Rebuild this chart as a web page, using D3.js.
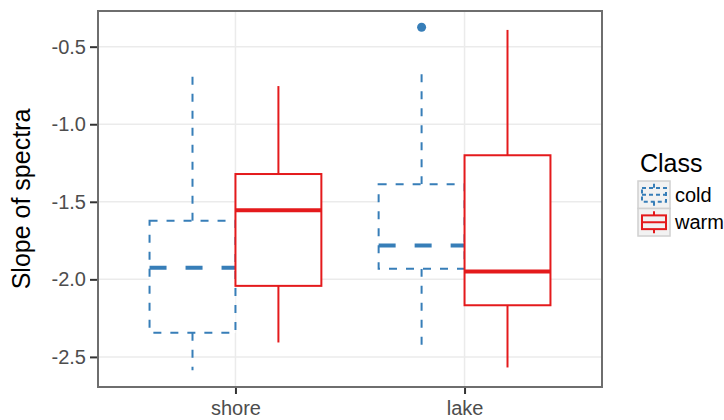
<!DOCTYPE html>
<html>
<head>
<meta charset="utf-8">
<script src="https://cdn.jsdelivr.net/npm/d3@7"></script>
<style>
  html, body { margin: 0; padding: 0; background: #fff; }
  svg { display: block; font-family: "Liberation Sans", Arial, Helvetica, sans-serif; }
</style>
</head>
<body>
<svg id="chart" width="724" height="420"></svg>
<script>
// Sites on the x axis and the two temperature classes
const sites = ["shore", "lake"];
const classes = ["cold", "warm"];

// Five-number summaries per class, in site order: [min, q1, median, q3, max]
const coldStats = [
  [-2.586, -2.345, -1.926, -1.623, -0.676],
  [-2.461, -1.932, -1.781, -1.387, -0.633]
];
const warmStats = [
  [-2.407, -2.042, -1.554, -1.321, -0.754],
  [-2.568, -2.167, -1.950, -1.200, -0.392]
];
// Outlying points per class, in site order
const coldOutliers = [[], [-0.375]];
const warmOutliers = [[], []];

// Axis ticks
const yTicks = [-2.5, -2.0, -1.5, -1.0, -0.5];
const yTickLabels = ["-2.5", "-2.0", "-1.5", "-1.0", "-0.5"];

const colors = { cold: "#377EB8", warm: "#E41A1C" };
const dashes = { cold: { line: "8,9", median: "17,19" }, warm: { line: null, median: null } };

const statsByClass = { cold: coldStats, warm: warmStats };
const outliersByClass = { cold: coldOutliers, warm: warmOutliers };

const panel = { left: 98, top: 11, right: 602, bottom: 387 };

const svg = d3.select("#chart");

const x = d3.scalePoint().domain(sites).range([panel.left, panel.right]).padding(0.6);
const dodge = d3.scaleBand().domain(classes).range([-x.step() * 0.375, x.step() * 0.375]).padding(0);
const y = d3.scaleLinear().domain([-2.694, -0.27]).range([panel.bottom, panel.top]);

// Grid lines
const grid = svg.append("g");
grid.selectAll("line.gy").data(yTicks).join("line")
  .attr("x1", panel.left).attr("x2", panel.right)
  .attr("y1", d => y(d)).attr("y2", d => y(d))
  .attr("stroke", "#ebebeb").attr("stroke-width", 1.5);
grid.selectAll("line.gx").data(sites).join("line")
  .attr("x1", d => x(d)).attr("x2", d => x(d))
  .attr("y1", panel.top).attr("y2", panel.bottom)
  .attr("stroke", "#ebebeb").attr("stroke-width", 1.5);

// Box plots
const boxes = [];
classes.forEach(c => {
  sites.forEach((s, i) => {
    const [mn, q1, md, q3, mx] = statsByClass[c][i];
    boxes.push({ c, s, mn, q1, md, q3, mx, out: outliersByClass[c][i] });
  });
});

const bw = dodge.bandwidth();
const gBoxes = svg.append("g");
boxes.forEach(b => {
  const x0 = x(b.s) + dodge(b.c);
  const cx = x0 + bw / 2;
  const g = gBoxes.append("g")
    .attr("stroke", colors[b.c]).attr("fill", "none");
  const dl = dashes[b.c].line;
  // upper whisker
  g.append("line").attr("x1", cx).attr("x2", cx).attr("y1", y(b.q3)).attr("y2", y(b.mx))
    .attr("stroke-width", 2).attr("stroke-dasharray", dl);
  // lower whisker
  g.append("line").attr("x1", cx).attr("x2", cx).attr("y1", y(b.q1)).attr("y2", y(b.mn))
    .attr("stroke-width", 2).attr("stroke-dasharray", dl);
  // box
  g.append("rect").attr("x", x0).attr("y", y(b.q3))
    .attr("width", bw).attr("height", y(b.q1) - y(b.q3))
    .attr("fill", "#fff").attr("stroke-width", 2).attr("stroke-dasharray", dl);
  // median
  g.append("line").attr("x1", x0).attr("x2", x0 + bw).attr("y1", y(b.md)).attr("y2", y(b.md))
    .attr("stroke-width", 4).attr("stroke-dasharray", dashes[b.c].median);
  // outliers
  g.selectAll("circle").data(b.out).join("circle")
    .attr("cx", cx).attr("cy", d => y(d)).attr("r", 4.5)
    .attr("fill", colors[b.c]).attr("stroke", "none");
});

// Panel border
svg.append("rect")
  .attr("x", panel.left).attr("y", panel.top)
  .attr("width", panel.right - panel.left).attr("height", panel.bottom - panel.top)
  .attr("fill", "none").attr("stroke", "#6e6e6e").attr("stroke-width", 2);

// Y axis
const yAxis = svg.append("g").attr("transform", `translate(${panel.left - 1},0)`)
  .call(d3.axisLeft(y).tickValues(yTicks).tickFormat((d, i) => yTickLabels[i]).tickSize(7).tickPadding(4));
yAxis.select(".domain").remove();
yAxis.selectAll(".tick line").attr("stroke", "#333").attr("stroke-width", 2);
yAxis.selectAll(".tick text").attr("fill", "#4d4d4d").attr("font-size", 20)
  .attr("font-family", "'Liberation Sans', Arial, sans-serif");

// X axis
const xAxis = svg.append("g").attr("transform", `translate(0,${panel.bottom + 1})`)
  .call(d3.axisBottom(x).tickSize(6).tickPadding(6.5));
xAxis.select(".domain").remove();
xAxis.selectAll(".tick line").attr("stroke", "#333").attr("stroke-width", 2);
xAxis.selectAll(".tick text").attr("fill", "#4d4d4d").attr("font-size", 20)
  .attr("font-family", "'Liberation Sans', Arial, sans-serif");

// Y axis title
svg.append("text")
  .attr("transform", `translate(30,${(panel.top + panel.bottom) / 2}) rotate(-90)`)
  .attr("text-anchor", "middle").attr("font-size", 25).attr("fill", "#000")
  .text("Slope of spectra");

// Legend
const legend = svg.append("g").attr("transform", "translate(638,181)");
legend.append("text").attr("x", 2).attr("y", -9).attr("font-size", 25).attr("fill", "#000").text("Class");
const kw = 32, kh = 27.5;
classes.forEach((c, i) => {
  const k = legend.append("g").attr("transform", `translate(0,${i * kh})`);
  k.append("rect").attr("width", kw).attr("height", kh)
    .attr("fill", "#f2f2f2").attr("stroke", "#d0d0d0").attr("stroke-width", 1.5);
  const gl = k.append("g").attr("stroke", colors[c]).attr("fill", "none").attr("stroke-width", 2)
    .attr("stroke-dasharray", dashes[c].line ? "4,3" : null);
  gl.append("line").attr("x1", kw / 2).attr("x2", kw / 2).attr("y1", kh * 0.1).attr("y2", kh * 0.25);
  gl.append("line").attr("x1", kw / 2).attr("x2", kw / 2).attr("y1", kh * 0.75).attr("y2", kh * 0.9);
  gl.append("rect").attr("x", kw * 0.125).attr("y", kh * 0.25).attr("width", kw * 0.75).attr("height", kh * 0.5);
  gl.append("line").attr("x1", kw * 0.125).attr("x2", kw * 0.875).attr("y1", kh / 2).attr("y2", kh / 2);
  k.append("text").attr("x", kw + 5).attr("y", kh / 2).attr("dy", "0.35em")
    .attr("font-size", 20).attr("fill", "#000").text(c);
});
</script>
</body>
</html>
